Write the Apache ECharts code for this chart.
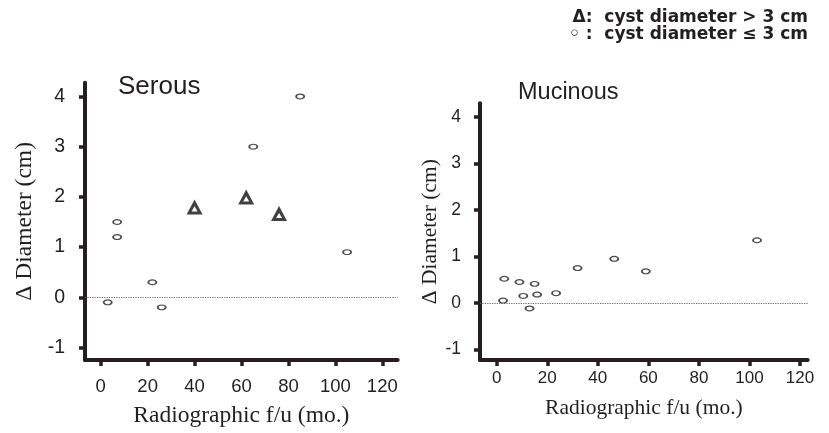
<!DOCTYPE html>
<html>
<head>
<meta charset="utf-8">
<script src="https://cdn.jsdelivr.net/npm/echarts@6/dist/echarts.min.js"></script>
<style>
html,body{margin:0;padding:0;background:#fff;}
#c{width:829px;height:433px;}
</style>
</head>
<body>
<div id="c"></div>
<script>
// ---- data ----
var xTicks = [0, 20, 40, 60, 80, 100, 120];
var yTicks = [-1, 0, 1, 2, 3, 4];

var serousSmallX = [3, 7, 7, 22, 26, 65, 85, 105];
var serousSmallY = [-0.1, 1.5, 1.2, 0.3, -0.2, 3.0, 4.0, 0.9];
var serousLargeX = [40, 62, 76];
var serousLargeY = [1.8, 2.0, 1.67];

var mucinousX = [2.5, 3, 9, 10.5, 13, 15, 16, 23.5, 32, 46.5, 59, 103];
var mucinousY = [0.05, 0.52, 0.45, 0.15, -0.12, 0.41, 0.18, 0.21, 0.75, 0.95, 0.68, 1.35];

var panelTitles = ['Serous', 'Mucinous'];
var xName = 'Radiographic f/u (mo.)';
var yName = '\u0394 Diameter (cm)';
var legendLines = ['\u0394:  cyst diameter > 3 cm', '\u25E6 :  cyst diameter \u2264 3 cm'];

// ---- helpers ----
function zip(xs, ys) { return xs.map(function (x, i) { return [x, ys[i]]; }); }
var ink = '#231f20';
var ellipse = 'path://M0,1C0,0.45 0.45,0 1,0C1.55,0 2,0.45 2,1C2,1.55 1.55,2 1,2C0.45,2 0,1.55 0,1Z';
var hollowTri = 'path://M7,0L14,13L0,13Z M7,6L4.4,10.4L9.6,10.4Z';

function xAxis(gi, min, max, fs, margin, nameGap) {
  return {
    gridIndex: gi, type: 'value', min: min, max: max,
    splitLine: { show: false },
    axisLine: { onZero: false, lineStyle: { color: ink, width: 4 } },
    axisTick: { customValues: xTicks, length: 6, lineStyle: { color: ink, width: 3.5 } },
    axisLabel: { customValues: xTicks, color: ink, fontSize: fs, fontFamily: 'Liberation Sans', margin: margin },
    name: xName, nameLocation: 'middle', nameGap: nameGap,
    nameTextStyle: { color: ink, fontFamily: 'Liberation Serif', fontSize: gi === 0 ? 23.5 : 21.5 }
  };
}
function yAxis(gi, min, max, fs, margin, nameGap) {
  return {
    gridIndex: gi, type: 'value', min: min, max: max,
    splitLine: { show: false },
    axisLine: { onZero: false, lineStyle: { color: ink, width: 4 } },
    axisTick: { customValues: yTicks, length: 6, lineStyle: { color: ink, width: 3.5 } },
    axisLabel: { customValues: yTicks, color: ink, fontSize: fs, fontFamily: 'Liberation Sans', margin: margin },
    name: yName, nameLocation: 'middle', nameGap: nameGap,
    nameTextStyle: { color: ink, fontFamily: 'Liberation Serif', fontSize: gi === 0 ? 23.5 : 21.5 }
  };
}
var zeroLine = {
  silent: true, symbol: 'none', label: { show: false },
  lineStyle: { type: [1.2, 1.2], color: '#666', width: 1 },
  data: [{ yAxis: 0 }]
};
var circleStyle = { color: '#fff', borderColor: ink, borderWidth: 1.5 };

var chart = echarts.init(document.getElementById('c'), null, { renderer: 'canvas' });
chart.setOption({
  animation: false,
  backgroundColor: '#fff',
  grid: [
    { left: 85, top: 82.7, width: 312.7, height: 282.3 },
    { left: 480, top: 103.3, width: 327.7, height: 256.7 }
  ],
  xAxis: [
    xAxis(0, -6.69, 126.56, 18.5, 17, 44),
    xAxis(1, -6.61, 123.05, 17, 10, 37)
  ],
  yAxis: [
    yAxis(0, -1.248, 4.274, 19.5, 20, 48),
    yAxis(1, -1.23, 4.30, 17.5, 19, 38)
  ],
  title: [
    { text: panelTitles[0], left: 118, top: 74, padding: 0,
      textStyle: { color: ink, fontFamily: 'Liberation Sans', fontWeight: 'normal', fontSize: 26 } },
    { text: panelTitles[1], left: 518, top: 81, padding: 0,
      textStyle: { color: ink, fontFamily: 'Liberation Sans', fontWeight: 'normal', fontSize: 23.5 } }
  ],
  graphic: [
    { type: 'text', right: 21, top: 9,
      style: { text: legendLines[0], fill: ink, font: 'bold 17px "DejaVu Sans"' } },
    { type: 'text', right: 21, top: 26,
      style: { text: legendLines[1], fill: ink, font: 'bold 17px "DejaVu Sans"' } }
  ],
  series: [
    { type: 'scatter', xAxisIndex: 0, yAxisIndex: 0, data: zip(serousSmallX, serousSmallY),
      symbol: ellipse, symbolSize: [8, 4.8], itemStyle: circleStyle, markLine: zeroLine, z: 3 },
    { type: 'scatter', xAxisIndex: 0, yAxisIndex: 0, data: zip(serousLargeX, serousLargeY),
      symbol: hollowTri, symbolSize: [16, 15],
      itemStyle: { color: '#111' }, z: 3 },
    { type: 'scatter', xAxisIndex: 1, yAxisIndex: 1, data: zip(mucinousX, mucinousY),
      symbol: ellipse, symbolSize: [8, 4.8], itemStyle: circleStyle, markLine: zeroLine, z: 3 }
  ]
});
</script>
</body>
</html>
